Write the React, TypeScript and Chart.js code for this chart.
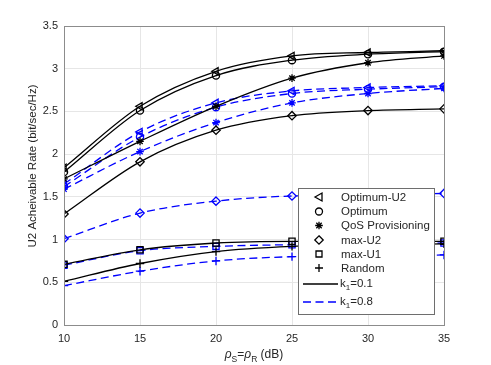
import React, { useEffect, useRef } from "react";
import { Chart, registerables } from "chart.js";

Chart.register(...registerables);

const xValues = [10, 15, 20, 25, 30, 35];
const yTicks = [0, 0.5, 1, 1.5, 2, 2.5, 3, 3.5];

// k1 = 0.1 (black, solid)
const optU2_k01 = [1.84, 2.56, 2.97, 3.15, 3.19, 3.21];
const opt_k01 = [1.79, 2.51, 2.92, 3.10, 3.17, 3.20];
const qos_k01 = [1.71, 2.15, 2.56, 2.89, 3.07, 3.15];
const maxU2_k01 = [1.30, 1.91, 2.28, 2.45, 2.51, 2.53];
const maxU1_k01 = [0.71, 0.88, 0.96, 0.98, 0.98, 0.98];
const rand_k01 = [0.51, 0.72, 0.86, 0.92, 0.94, 0.95];

// k1 = 0.8 (blue, dashed)
const optU2_k08 = [1.65, 2.26, 2.60, 2.74, 2.78, 2.80];
const opt_k08 = [1.62, 2.20, 2.55, 2.71, 2.76, 2.79];
const qos_k08 = [1.59, 2.03, 2.37, 2.60, 2.71, 2.77];
const maxU2_k08 = [1.01, 1.31, 1.45, 1.51, 1.52, 1.54];
const maxU1_k08 = [0.70, 0.87, 0.92, 0.94, 0.95, 0.96];
const rand_k08 = [0.46, 0.63, 0.75, 0.80, 0.81, 0.82];

const legendMarkers = ["Optimum-U2", "Optimum", "QoS Provisioning", "max-U2", "max-U1", "Random"];
const legendLines = ["0.1", "0.8"];

const BLACK = "#000000";
const BLUE = "#0000ff";
const FONT = "'Liberation Sans', Arial, Helvetica, sans-serif";
const TEXT = "#262626";

type MType = "tri" | "circ" | "star" | "diam" | "sq" | "plus";
const markerTypes: MType[] = ["tri", "circ", "star", "diam", "sq", "plus"];

const styleFor: Record<MType, { pointStyle: string; radius: number; rotation: number }> = {
  tri: { pointStyle: "triangle", radius: 4.2, rotation: -90 },
  circ: { pointStyle: "circle", radius: 3.6, rotation: 0 },
  star: { pointStyle: "star", radius: 3.8, rotation: 0 },
  diam: { pointStyle: "rectRot", radius: 4.2, rotation: 0 },
  sq: { pointStyle: "rect", radius: 4.4, rotation: 0 },
  plus: { pointStyle: "cross", radius: 4.2, rotation: 0 },
};

function drawMarker(ctx: CanvasRenderingContext2D, t: MType, x: number, y: number, color: string) {
  ctx.save();
  ctx.strokeStyle = color;
  ctx.lineWidth = 1.3;
  ctx.beginPath();
  if (t === "tri") {
    ctx.moveTo(x - 4, y);
    ctx.lineTo(x + 3, y - 4);
    ctx.lineTo(x + 3, y + 4);
    ctx.closePath();
  } else if (t === "circ") {
    ctx.arc(x, y, 3.5, 0, Math.PI * 2);
  } else if (t === "star") {
    for (let i = 0; i < 4; i++) {
      const a = (i * Math.PI) / 4;
      ctx.moveTo(x - 3.8 * Math.cos(a), y - 3.8 * Math.sin(a));
      ctx.lineTo(x + 3.8 * Math.cos(a), y + 3.8 * Math.sin(a));
    }
  } else if (t === "diam") {
    ctx.moveTo(x, y - 4.2);
    ctx.lineTo(x + 4.2, y);
    ctx.lineTo(x, y + 4.2);
    ctx.lineTo(x - 4.2, y);
    ctx.closePath();
  } else if (t === "sq") {
    ctx.rect(x - 3, y - 3, 6, 6);
  } else {
    ctx.moveTo(x - 4, y);
    ctx.lineTo(x + 4, y);
    ctx.moveTo(x, y - 4);
    ctx.lineTo(x, y + 4);
  }
  ctx.stroke();
  ctx.restore();
}

const overlayPlugin = {
  id: "overlay",
  afterDraw(chart: any) {
    const ctx: CanvasRenderingContext2D = chart.ctx;
    const a = chart.chartArea;
    ctx.save();
    // axes box
    ctx.strokeStyle = "#8c8c8c";
    ctx.lineWidth = 1;
    ctx.strokeRect(Math.round(a.left) + 0.5, Math.round(a.top) + 0.5, Math.round(a.right - a.left), Math.round(a.bottom - a.top));

    // legend
    const lx = 298.5, ly = 188.5, lw = 136, lh = 126;
    ctx.fillStyle = "#ffffff";
    ctx.fillRect(lx, ly, lw, lh);
    ctx.strokeStyle = "#6e6e6e";
    ctx.strokeRect(lx, ly, lw, lh);
    ctx.font = `11.5px ${FONT}`;
    ctx.fillStyle = TEXT;
    ctx.textBaseline = "middle";
    ctx.textAlign = "left";
    const rows = [197, 211.5, 225.5, 240, 254, 268];
    legendMarkers.forEach((name, i) => {
      drawMarker(ctx, markerTypes[i], 319, rows[i], BLACK);
      ctx.fillStyle = TEXT;
      ctx.fillText(name, 341, rows[i] + 0.5);
    });
    const lineRows = [284, 302];
    legendLines.forEach((val, i) => {
      const y = lineRows[i];
      ctx.save();
      ctx.strokeStyle = i === 0 ? BLACK : BLUE;
      ctx.lineWidth = 1.3;
      if (i === 1) ctx.setLineDash([8, 4.5]);
      ctx.beginPath();
      ctx.moveTo(303, y);
      ctx.lineTo(338, y);
      ctx.stroke();
      ctx.restore();
      ctx.fillStyle = TEXT;
      ctx.font = `11.5px ${FONT}`;
      ctx.fillText("k", 340, y);
      const kw = ctx.measureText("k").width;
      ctx.font = `8px ${FONT}`;
      ctx.fillText("1", 340 + kw, y + 4);
      const sw = ctx.measureText("1").width;
      ctx.font = `11.5px ${FONT}`;
      ctx.fillText("=" + val, 340 + kw + sw, y);
    });

    // x-axis title: rho_S = rho_R (dB)
    const parts: { t: string; f: string; dy: number }[] = [
      { t: "\u03c1", f: `italic 12px ${FONT}`, dy: 0 },
      { t: "S", f: `8.5px ${FONT}`, dy: 3.5 },
      { t: "=", f: `12px ${FONT}`, dy: 0 },
      { t: "\u03c1", f: `italic 12px ${FONT}`, dy: 0 },
      { t: "R", f: `8.5px ${FONT}`, dy: 3.5 },
      { t: " (dB)", f: `12px ${FONT}`, dy: 0 },
    ];
    let total = 0;
    parts.forEach((p) => {
      ctx.font = p.f;
      total += ctx.measureText(p.t).width;
    });
    let cx = (a.left + a.right) / 2 - total / 2;
    ctx.textBaseline = "alphabetic";
    ctx.fillStyle = TEXT;
    parts.forEach((p) => {
      ctx.font = p.f;
      ctx.fillText(p.t, cx, 358 + p.dy);
      cx += ctx.measureText(p.t).width;
    });

    // y-axis title
    ctx.save();
    ctx.translate(33, 166);
    ctx.rotate(-Math.PI / 2);
    ctx.font = `11.5px ${FONT}`;
    ctx.textAlign = "center";
    ctx.textBaseline = "middle";
    ctx.fillStyle = TEXT;
    ctx.fillText("U2 Acheivable Rate (bit/sec/Hz)", 0, 0);
    ctx.restore();
    ctx.restore();
  },
};

function mkDataset(label: string, values: number[], t: MType, color: string, dashed: boolean) {
  const s = styleFor[t];
  return {
    label,
    data: xValues.map((x, i) => ({ x, y: values[i] })),
    borderColor: color,
    backgroundColor: "rgba(0,0,0,0)",
    borderWidth: 1.3,
    borderDash: dashed ? [8, 4.5] : [],
    pointStyle: s.pointStyle,
    pointRadius: s.radius,
    pointRotation: s.rotation,
    pointBorderColor: color,
    pointBackgroundColor: "rgba(0,0,0,0)",
    pointBorderWidth: 1.3,
    cubicInterpolationMode: "monotone",
    fill: false,
    showLine: true,
  };
}

export default function App() {
  const ref = useRef<HTMLCanvasElement>(null);
  useEffect(() => {
    if (!ref.current) return;
    const datasets = [
      mkDataset("Optimum-U2 k1=0.1", optU2_k01, "tri", BLACK, false),
      mkDataset("Optimum k1=0.1", opt_k01, "circ", BLACK, false),
      mkDataset("QoS k1=0.1", qos_k01, "star", BLACK, false),
      mkDataset("max-U2 k1=0.1", maxU2_k01, "diam", BLACK, false),
      mkDataset("max-U1 k1=0.1", maxU1_k01, "sq", BLACK, false),
      mkDataset("Random k1=0.1", rand_k01, "plus", BLACK, false),
      mkDataset("Optimum-U2 k1=0.8", optU2_k08, "tri", BLUE, true),
      mkDataset("Optimum k1=0.8", opt_k08, "circ", BLUE, true),
      mkDataset("QoS k1=0.8", qos_k08, "star", BLUE, true),
      mkDataset("max-U2 k1=0.8", maxU2_k08, "diam", BLUE, true),
      mkDataset("max-U1 k1=0.8", maxU1_k08, "sq", BLUE, true),
      mkDataset("Random k1=0.8", rand_k08, "plus", BLUE, true),
    ];
    const chart = new Chart(ref.current, {
      type: "line",
      data: { datasets: datasets as any },
      options: {
        animation: false,
        responsive: false,
        maintainAspectRatio: false,
        layout: { padding: { left: 0, top: 26, right: 47, bottom: 0 } },
        plugins: { legend: { display: false }, tooltip: { enabled: false } },
        scales: {
          x: {
            type: "linear",
            min: 10,
            max: 35,
            afterBuildTicks: (axis: any) => {
              axis.ticks = xValues.map((v) => ({ value: v }));
            },
            afterFit: (axis: any) => {
              axis.height = 40;
            },
            grid: { color: "#e6e6e6", drawTicks: false, lineWidth: 1 },
            border: { display: false },
            ticks: {
              padding: 7,
              color: TEXT,
              font: { family: FONT, size: 11 },
              maxRotation: 0,
            },
          },
          y: {
            type: "linear",
            min: 0,
            max: 3.5,
            afterBuildTicks: (axis: any) => {
              axis.ticks = yTicks.map((v) => ({ value: v }));
            },
            afterFit: (axis: any) => {
              axis.width = 64;
            },
            grid: { color: "#e6e6e6", drawTicks: false, lineWidth: 1 },
            border: { display: false },
            ticks: {
              padding: 6,
              color: TEXT,
              font: { family: FONT, size: 11 },
              callback: (v: any) => String(v),
            },
          },
        },
      },
      plugins: [overlayPlugin],
    });
    return () => chart.destroy();
  }, []);
  return (
    <div style={{ position: "absolute", left: 0, top: 0, width: 491, height: 365, background: "#fff" }}>
      <canvas ref={ref} width={491} height={365} style={{ width: 491, height: 365, display: "block" }} />
    </div>
  );
}
